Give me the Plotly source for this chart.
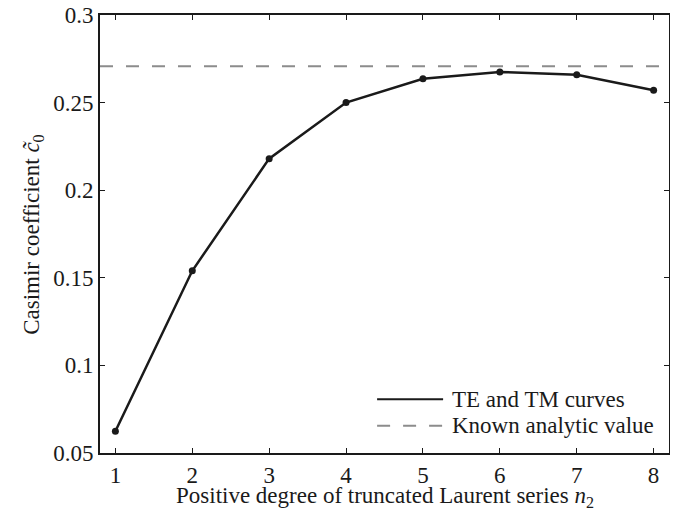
import plotly.graph_objects as go

n2 = [1, 2, 3, 4, 5, 6, 7, 8]
c0 = [0.0624, 0.154, 0.218, 0.250, 0.2636, 0.2675, 0.2659, 0.2570]
analytic_value = 0.2707
x_range = [0.8, 8.2]
y_ticks = [0.05, 0.1, 0.15, 0.2, 0.25, 0.3]
y_ticktext = ["0.05", "0.1", "0.15", "0.2", "0.25", "0.3"]
legend_labels = ["TE and TM curves", "Known analytic value"]
x_title = "Positive degree of truncated Laurent series <i>n</i><sub>2</sub>"
y_title = "Casimir coefficient <i>c\u0303</i><sub>0</sub>"

FONT = "Liberation Serif"
FS = 23
INK = "#1a1a1a"
GREY = "#8c8c8c"
DASH = "13px,13px"

fig = go.Figure()
fig.add_trace(go.Scatter(
    x=n2, y=c0, mode="lines+markers", name=legend_labels[0],
    line=dict(color=INK, width=2.5),
    marker=dict(color=INK, size=7),
))
fig.add_trace(go.Scatter(
    x=x_range, y=[analytic_value, analytic_value], mode="lines",
    name=legend_labels[1],
    line=dict(color=GREY, width=2, dash=DASH),
))

axis_common = dict(
    showline=True, linecolor=INK, linewidth=2, mirror="ticks",
    ticks="inside", ticklen=5, tickwidth=1.2, tickcolor=INK,
    showgrid=False, zeroline=False, automargin=False,
    ticklabeloverflow="allow",
    tickfont=dict(family=FONT, size=FS, color=INK),
)

# manual legend (no box), placed lower right inside the axes
leg_x0, leg_x1, leg_tx = 0.487, 0.603, 0.615
leg_rows = [0.123, 0.062]
shapes = [
    dict(type="line", xref="paper", yref="paper", x0=leg_x0, x1=leg_x1,
         y0=leg_rows[0], y1=leg_rows[0], line=dict(color=INK, width=2)),
    dict(type="line", xref="paper", yref="paper", x0=leg_x0, x1=leg_x1,
         y0=leg_rows[1], y1=leg_rows[1], line=dict(color=GREY, width=2, dash=DASH)),
]
annotations = [
    dict(text=lab, xref="paper", yref="paper", x=leg_tx, y=yy,
         xanchor="left", yanchor="middle", showarrow=False,
         font=dict(family=FONT, size=FS, color=INK))
    for lab, yy in zip(legend_labels, leg_rows)
]
# axis titles as annotations for exact placement
annotations.append(dict(text=x_title, xref="paper", yref="paper", x=0.5, y=-0.101,
                        xanchor="center", yanchor="middle", showarrow=False,
                        font=dict(family=FONT, size=FS, color=INK)))
annotations.append(dict(text=y_title, xref="paper", yref="paper", x=-0.118, y=0.5,
                        xanchor="center", yanchor="middle", showarrow=False,
                        textangle=-90,
                        font=dict(family=FONT, size=FS, color=INK)))

fig.update_layout(
    width=678, height=510,
    margin=dict(l=92, r=17, t=7, b=65),
    paper_bgcolor="white", plot_bgcolor="white",
    font=dict(family=FONT, size=FS, color=INK),
    showlegend=False,
    shapes=shapes, annotations=annotations,
    xaxis=dict(range=x_range, tickvals=n2, **axis_common),
    yaxis=dict(range=[0.05, 0.3], tickvals=y_ticks, ticktext=y_ticktext, **axis_common),
)

fig.write_html("out.html")
